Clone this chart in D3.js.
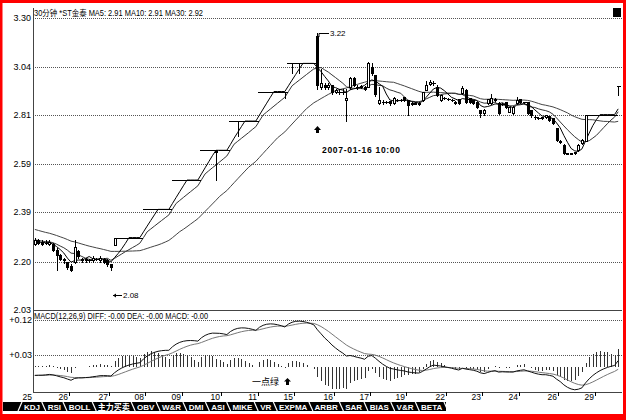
<!DOCTYPE html>
<html><head><meta charset="utf-8">
<script src="https://cdn.jsdelivr.net/npm/d3@7/dist/d3.min.js"></script>
<style>
body{margin:0;background:#fff}
svg{display:block}
text{font-family:"Liberation Sans",Arial,"Noto Sans CJK SC",sans-serif}
</style>
</head><body>
<svg id="c" width="626" height="420"></svg>
<script>
// ---------------- DATA ----------------
const titleText = "30分钟 *ST金泰 MA5: 2.91 MA10: 2.91 MA30: 2.92";
const macdTitle = "MACD(12,26,9) DIFF: -0.00 DEA: -0.00 MACD: -0.00";
const priceTicks = [3.30, 3.04, 2.81, 2.59, 2.39, 2.20, 2.03];
const macdTicks = [0.12, 0.03];
const dateLabels = ["25","26","27","08","09","10","11","15","16","17","19","22","23","24","26","29"];
const dateIdx = [0,10,21,31,41,52,62,72,83,93,103,114,124,134,145,155];
const tabNames = ["KDJ","RSI","BOLL","主力买卖","OBV","W&R","DMI","ASI","MIKE","VR","EXPMA","ARBR","SAR","BIAS","V&R","BETA"];

// closes before the visible window (used only for MA / MACD warm-up)
const priorCloses = [2.39,2.39,2.38,2.38,2.37,2.37,2.36,2.36,2.35,2.35,2.35,2.34,2.34,2.33,2.33,
                     2.32,2.31,2.31,2.30,2.30,2.29,2.29,2.29,2.29,2.28,2.28,2.28,2.28,2.27,2.27];

const opens = [
2.265,2.28,2.275,2.27,2.265,2.265,2.245,2.225,2.21,2.20,
2.185,2.20,2.24,2.21,2.205,2.205,2.205,2.21,2.205,2.21,
2.205,2.19,2.26,2.29,2.29,2.29,2.29,2.29,2.29,2.29,
2.40,2.40,2.40,2.40,2.40,2.40,2.40,2.40,2.52,2.52,
2.52,2.52,2.52,2.52,2.52,2.52,2.65,2.65,2.65,2.65,
2.65,2.65,2.65,2.65,2.78,2.78,2.78,2.78,2.78,2.78,
2.78,2.78,2.92,2.92,2.92,2.92,2.92,2.92,2.92,2.92,
3.06,3.06,3.06,3.06,3.06,3.06,3.06,3.06,3.20,2.94,
2.95,2.94,2.95,2.92,2.92,2.92,2.88,2.94,2.985,2.94,
2.94,2.942,2.94,3.04,3.00,2.865,2.87,2.87,2.874,2.865,
2.88,2.88,2.893,2.879,2.86,2.865,2.86,2.879,2.927,2.955,
2.96,2.942,2.879,2.89,2.885,2.88,2.87,2.884,2.913,2.927,
2.889,2.879,2.869,2.831,2.817,2.864,2.864,2.885,2.864,2.86,
2.869,2.822,2.817,2.864,2.884,2.869,2.869,2.831,2.80,2.795,
2.795,2.80,2.803,2.794,2.748,2.69,2.671,2.636,2.632,2.634,
2.649,2.68,2.69,2.81,2.81,2.81,2.81,2.81,2.81,2.81,
2.81,2.945];
const highs = [
2.29,2.285,2.28,2.28,2.28,2.27,2.25,2.23,2.215,2.20,
2.19,2.28,2.245,2.215,2.215,2.21,2.22,2.215,2.22,2.212,
2.21,2.19,2.29,2.29,2.29,2.29,2.29,2.29,2.29,2.29,
2.40,2.40,2.40,2.40,2.40,2.40,2.40,2.40,2.52,2.52,
2.52,2.52,2.52,2.52,2.52,2.52,2.65,2.65,2.65,2.65,
2.65,2.65,2.65,2.65,2.78,2.78,2.78,2.78,2.78,2.78,
2.78,2.78,2.92,2.92,2.92,2.92,2.92,2.92,2.92,2.92,
3.06,3.06,3.06,3.06,3.06,3.06,3.06,3.06,3.22,3.03,
2.96,2.96,2.95,2.93,2.93,2.93,2.93,2.99,2.99,2.95,
2.95,2.945,3.065,3.06,3.00,2.94,2.88,2.875,2.876,2.895,
2.885,2.885,2.895,2.88,2.87,2.87,2.87,2.92,2.97,2.975,
2.97,2.95,2.905,2.895,2.89,2.885,2.875,2.886,2.947,2.93,
2.89,2.88,2.87,2.833,2.835,2.886,2.908,2.89,2.87,2.865,
2.87,2.848,2.85,2.893,2.886,2.87,2.87,2.832,2.81,2.80,
2.80,2.81,2.805,2.795,2.75,2.695,2.675,2.638,2.636,2.642,
2.675,2.70,2.81,2.81,2.81,2.81,2.81,2.81,2.81,2.81,
2.81,2.945];
const lows = [
2.26,2.265,2.26,2.265,2.26,2.24,2.17,2.205,2.195,2.175,
2.165,2.195,2.215,2.20,2.20,2.20,2.20,2.205,2.20,2.195,
2.185,2.17,2.26,2.29,2.29,2.29,2.29,2.29,2.29,2.29,
2.40,2.40,2.40,2.40,2.40,2.40,2.40,2.40,2.52,2.52,
2.52,2.52,2.52,2.52,2.52,2.52,2.65,2.65,2.65,2.65,
2.52,2.65,2.65,2.65,2.78,2.78,2.71,2.78,2.78,2.78,
2.78,2.78,2.92,2.92,2.92,2.92,2.92,2.92,2.92,2.89,
3.06,3.01,3.06,3.01,3.06,3.06,3.06,3.06,2.93,2.93,
2.93,2.93,2.91,2.915,2.91,2.91,2.78,2.93,2.945,2.93,
2.935,2.925,2.94,3.00,2.90,2.86,2.86,2.865,2.855,2.86,
2.875,2.875,2.875,2.808,2.855,2.86,2.855,2.875,2.925,2.95,
2.95,2.90,2.875,2.885,2.88,2.875,2.86,2.86,2.91,2.865,
2.865,2.86,2.84,2.798,2.81,2.86,2.86,2.875,2.815,2.855,
2.84,2.82,2.815,2.862,2.865,2.865,2.815,2.80,2.79,2.79,
2.79,2.795,2.78,2.765,2.69,2.68,2.63,2.63,2.63,2.63,
2.645,2.675,2.69,2.81,2.81,2.81,2.81,2.81,2.81,2.81,
2.81,2.903];
const closes = [
2.28,2.27,2.265,2.27,2.275,2.245,2.225,2.21,2.205,2.18,
2.17,2.255,2.22,2.205,2.21,2.205,2.215,2.21,2.215,2.20,
2.19,2.18,2.29,2.29,2.29,2.29,2.29,2.29,2.29,2.29,
2.40,2.40,2.40,2.40,2.40,2.40,2.40,2.40,2.52,2.52,
2.52,2.52,2.52,2.52,2.52,2.52,2.65,2.65,2.65,2.65,
2.64,2.65,2.65,2.65,2.78,2.78,2.78,2.78,2.78,2.78,
2.78,2.78,2.92,2.92,2.92,2.92,2.92,2.92,2.92,2.92,
3.06,3.06,3.06,3.06,3.06,3.06,3.06,3.06,2.95,2.96,
2.94,2.95,2.92,2.925,2.92,2.92,2.89,2.985,2.95,2.94,
2.945,2.93,3.06,3.01,2.91,2.88,2.87,2.87,2.865,2.89,
2.88,2.88,2.879,2.855,2.865,2.86,2.865,2.918,2.952,2.966,
2.96,2.903,2.903,2.89,2.885,2.879,2.865,2.864,2.937,2.869,
2.869,2.864,2.845,2.817,2.831,2.884,2.889,2.88,2.817,2.86,
2.845,2.845,2.845,2.879,2.869,2.869,2.817,2.808,2.798,2.795,
2.798,2.808,2.785,2.771,2.694,2.685,2.636,2.632,2.634,2.64,
2.671,2.694,2.81,2.81,2.81,2.81,2.81,2.81,2.81,2.81,
2.81,2.945];

const highMark = {idx: 78, value: 3.22};
const lowMark = {idx: 21, value: 2.08};
const cursorIdx = 78;
const cursorText = "2007-01-16 10:00";
const greenNote = "一点绿";

// ---------------- LAYOUT ----------------
const svg = d3.select("#c");
const xL = 33, xR = 620, gridR = 622;
const mainTop = 18, mainBot = 310, macdBot = 392;
const N = closes.length;

const x = d3.scaleBand().domain(d3.range(N)).range([xL, xR]).padding(0);
const cx = i => Math.round(x(i) + x.bandwidth()/2);
const y = d3.scaleLog().domain([2.03, 3.30]).range([mainBot, mainTop]);
const ym = d3.scaleLinear().domain([-0.0651, 0.1457]).range([macdBot, mainBot]);

// indicators
const all = priorCloses.concat(closes);
const P = priorCloses.length;
const ma = n => closes.map((c, i) => d3.mean(all.slice(P + i - n + 1, P + i + 1)));
const ema = (arr, n) => { const k = 2/(n+1); let e = arr[0]; return arr.map((v, i) => i === 0 ? e : (e = e + k*(v - e))); };
const e12 = ema(all, 12), e26 = ema(all, 26);
const diffAll = all.map((v, i) => e12[i] - e26[i]);
const deaAll = ema(diffAll, 9);
const diff = diffAll.slice(P), dea = deaAll.slice(P);
const hist = diff.map((d, i) => 2*(d - dea[i]));
const ma5 = ma(5), ma10 = ma(10), ma30 = ma(30);

// ---------------- FRAME ----------------
svg.append("rect").attr("width",626).attr("height",420).attr("fill","#fff");

const defs = svg.append("defs");
defs.append("clipPath").attr("id","mainClip").append("rect").attr("x",xL+1).attr("y",5).attr("width",gridR-xL).attr("height",mainBot-5);
defs.append("clipPath").attr("id","macdClip").append("rect").attr("x",xL+1).attr("y",mainBot+1).attr("width",gridR-xL).attr("height",macdBot-mainBot-1);

const g = svg.append("g").attr("shape-rendering","crispEdges");
priceTicks.slice(0, -1).forEach(v => {
  g.append("line").attr("x1",xL).attr("x2",gridR).attr("y1",Math.round(y(v))+0.5).attr("y2",Math.round(y(v))+0.5)
   .attr("stroke","#555").attr("stroke-dasharray","1,1");
});
priceTicks.forEach(v => {
  svg.append("text").attr("x",31).attr("y",Math.round(y(v))+3).attr("text-anchor","end")
    .attr("font-size","9px").attr("fill","#000").text(v.toFixed(2));
});
macdTicks.forEach(v => {
  g.append("line").attr("x1",xL).attr("x2",gridR).attr("y1",Math.round(ym(v))+0.5).attr("y2",Math.round(ym(v))+0.5)
   .attr("stroke","#555").attr("stroke-dasharray","1,1");
  svg.append("text").attr("x",32).attr("y",Math.round(ym(v))+3).attr("text-anchor","end")
    .attr("font-size","9px").text("+" + v.toFixed(2));
});
g.append("line").attr("x1",xL).attr("x2",gridR).attr("y1",mainBot+0.5).attr("y2",mainBot+0.5).attr("stroke","#444");
g.append("line").attr("x1",xL).attr("x2",gridR).attr("y1",macdBot+0.5).attr("y2",macdBot+0.5).attr("stroke","#444");
g.append("line").attr("x1",xL+0.5).attr("x2",xL+0.5).attr("y1",8).attr("y2",macdBot+1).attr("stroke","#444");

dateIdx.forEach((d, k) => {
  const xx = Math.round(x(d));
  if (k > 0) g.append("line").attr("x1",xx+0.5).attr("x2",xx+0.5).attr("y1",macdBot).attr("y2",macdBot+4).attr("stroke","#000");
  svg.append("text").attr("x",xx-1).attr("y",macdBot+8).attr("text-anchor","end").attr("font-size","8.5px").text(dateLabels[k]);
});

svg.append("text").attr("x",34).attr("y",16).attr("font-size","8.5px")
  .attr("textLength",169).attr("lengthAdjust","spacingAndGlyphs").text(titleText);
svg.append("text").attr("x",34).attr("y",319).attr("font-size","8.5px")
  .attr("textLength",174).attr("lengthAdjust","spacingAndGlyphs").text(macdTitle);
svg.append("rect").attr("x",613).attr("y",8).attr("width",8).attr("height",9).attr("fill","#000");

// ---------------- MA LINES ----------------
const mainG = svg.append("g").attr("clip-path","url(#mainClip)");
const lineOf = (arr, sc) => d3.line().x((d, i) => x(i) + x.bandwidth()/2).y(d => sc(d))(arr);
mainG.append("path").attr("d", lineOf(ma30, y)).attr("fill","none").attr("stroke","#444").attr("stroke-width",1);
mainG.append("path").attr("d", lineOf(ma10, y)).attr("fill","none").attr("stroke","#333").attr("stroke-width",1);
mainG.append("path").attr("d", lineOf(ma5, y)).attr("fill","none").attr("stroke","#000").attr("stroke-width",1);

// ---------------- CANDLES ----------------
const cg = mainG.append("g").attr("shape-rendering","crispEdges");
closes.forEach((c, i) => {
  const o = opens[i], h = highs[i], l = lows[i];
  const xc = cx(i);
  const left = xc - 1;
  const yo = Math.round(y(o)), yc = Math.round(y(c)), yh = Math.round(y(h)), yl = Math.round(y(l));
  cg.append("line").attr("x1",xc+0.5).attr("x2",xc+0.5).attr("y1",yh).attr("y2",yl+1).attr("stroke","#000");
  if (Math.abs(yo - yc) < 1) {
    cg.append("rect").attr("x",left).attr("y",yc).attr("width",4).attr("height",1).attr("fill","#000");
  } else if (c > o) {
    cg.append("rect").attr("x",left+0.5).attr("y",yc+0.5).attr("width",2).attr("height",yo-yc).attr("fill","#fff").attr("stroke","#000");
  } else {
    cg.append("rect").attr("x",left).attr("y",yo).attr("width",3).attr("height",yc-yo+1).attr("fill","#000");
  }
});

(function(){
  const xh = cx(highMark.idx) + 2, yh = Math.round(y(highMark.value));
  svg.append("path").attr("d",`M${xh},${yh+4}L${xh},${yh+0.5}L${xh+10},${yh+0.5}`).attr("fill","none").attr("stroke","#000");
  svg.append("text").attr("x",xh+11).attr("y",yh+3).attr("font-size","8px").text(highMark.value.toFixed(2));
  const xl = cx(lowMark.idx) + 2, yl = Math.round(y(lowMark.value));
  svg.append("path").attr("d",`M${xl},${yl+0.5}L${xl+9},${yl+0.5}`).attr("stroke","#000");
  svg.append("path").attr("d",`M${xl},${yl+0.5}L${xl+3},${yl-1.5}L${xl+3},${yl+2.5}Z`).attr("fill","#000");
  svg.append("text").attr("x",xl+10).attr("y",yl+3).attr("font-size","8px").text(lowMark.value.toFixed(2));
})();

(function(){
  const xa = cx(cursorIdx) + 0.5, ya = 126;
  svg.append("path").attr("d",`M${xa},${ya}L${xa+3.5},${ya+4}L${xa+1.5},${ya+4}L${xa+1.5},${ya+7}L${xa-1.5},${ya+7}L${xa-1.5},${ya+4}L${xa-3.5},${ya+4}Z`).attr("fill","#000");
  svg.append("text").attr("x",322).attr("y",153).attr("font-size","8.5px").attr("font-weight","bold")
    .attr("font-family","'DejaVu Sans Mono','Liberation Mono',monospace")
    .attr("textLength",78).attr("lengthAdjust","spacing").text(cursorText);
})();

// ---------------- MACD ----------------
const mg = svg.append("g").attr("clip-path","url(#macdClip)");
const z0 = Math.round(ym(0));
hist.forEach((v, i) => {
  const xx = cx(i) + 0.5;
  mg.append("line").attr("x1",xx).attr("x2",xx).attr("y1",z0).attr("y2",Math.round(ym(v))).attr("stroke","#333").attr("shape-rendering","crispEdges");
});
mg.append("path").attr("d", lineOf(dea, ym)).attr("fill","none").attr("stroke","#777");
mg.append("path").attr("d", lineOf(diff, ym)).attr("fill","none").attr("stroke","#111");

svg.append("text").attr("x",252).attr("y",385).attr("font-size","9px").attr("font-family","'Noto Sans CJK SC',sans-serif").text(greenNote);
(function(){
  const xa = 287.5, ya = 378;
  svg.append("path").attr("d",`M${xa},${ya}L${xa+3.5},${ya+3.5}L${xa+1.5},${ya+3.5}L${xa+1.5},${ya+7}L${xa-1.5},${ya+7}L${xa-1.5},${ya+3.5}L${xa-3.5},${ya+3.5}Z`).attr("fill","#000");
})();

// ---------------- TAB STRIP ----------------
(function(){
  const tg = svg.append("g");
  const stripY = 402, stripH = 9, startX = 20, endX = 446;
  tg.append("rect").attr("x",3).attr("y",stripY).attr("width",endX-3).attr("height",stripH).attr("fill","#000");
  const tmp = tg.append("text").attr("font-size","8px").attr("font-weight","bold");
  const widths = tabNames.map(t => { tmp.text(t); return tmp.node().getComputedTextLength() + 9; });
  tmp.remove();
  const total = d3.sum(widths), f = (endX - startX) / total;
  let px = startX;
  tg.append("line").attr("x1",px+2).attr("x2",px-2).attr("y1",stripY).attr("y2",stripY+stripH).attr("stroke","#fff").attr("stroke-width",1.2);
  tabNames.forEach((t, k) => {
    const w = widths[k]*f;
    tg.append("text").attr("x",px + w/2).attr("y",stripY+7.5).attr("text-anchor","middle").attr("font-size","8px")
      .attr("font-weight","bold").attr("fill","#fff").text(t);
    px += w;
    tg.append("line").attr("x1",px-2).attr("x2",px+2).attr("y1",stripY).attr("y2",stripY+stripH).attr("stroke","#fff").attr("stroke-width",1.2);
  });
})();

// ---------------- RED BORDER ----------------
const red = "#ff0000";
svg.append("rect").attr("x",0).attr("y",0).attr("width",626).attr("height",3).attr("fill",red);
svg.append("rect").attr("x",0).attr("y",0).attr("width",2.5).attr("height",420).attr("fill",red);
svg.append("rect").attr("x",623).attr("y",0).attr("width",3).attr("height",420).attr("fill",red);
svg.append("rect").attr("x",0).attr("y",414).attr("width",626).attr("height",6).attr("fill",red);
</script>
</body></html>
